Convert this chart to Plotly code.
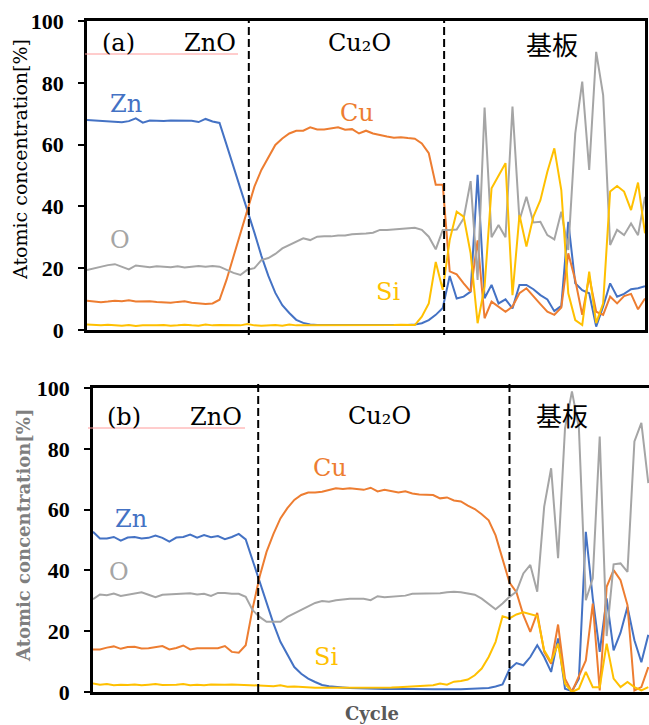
import plotly.graph_objects as go

# ---------------- data ----------------
cycle = list(range(81))

zn_a = [68.0, 67.8, 67.8, 67.5, 67.3, 67.2, 67.6, 68.5, 67.1, 67.8, 67.7, 67.6, 67.8, 67.8, 67.8, 67.7, 67.3, 68.3, 67.5, 67.0,
        60.0, 53.0, 46.0, 39.0, 31.5, 24.0, 17.5, 12.0, 8.0, 5.5, 3.3, 2.3, 1.8, 1.6, 1.6, 1.5, 1.5, 1.5, 1.4, 1.5,
        1.5, 1.5, 1.4, 1.5, 1.5, 1.6, 1.6, 1.8, 2.2, 3.2, 4.9, 7.1, 17.5, 10.2, 10.8, 12.4, 50.2, 10.3, 14.6, 8.6,
        9.9, 7.0, 14.6, 14.6, 13.2, 11.3, 9.9, 6.1, 7.8, 35.0, 15.1, 12.9, 11.9, 1.1, 7.6, 15.1, 10.8, 11.7, 13.2, 13.5,
        14.2]
cu_a = [9.5, 9.2, 9.0, 9.2, 9.5, 9.3, 9.6, 9.2, 9.3, 9.3, 9.1, 9.0, 8.8, 9.1, 9.3, 8.8, 8.5, 8.4, 8.6, 9.8,
        16.2, 23.7, 31.8, 38.8, 46.4, 51.8, 56.1, 59.9, 62.0, 63.6, 64.5, 64.5, 65.6, 64.9, 64.9, 65.2, 65.6, 64.8, 65.0, 63.6,
        64.5, 63.6, 63.0, 62.6, 62.2, 62.4, 62.1, 61.9, 60.4, 57.2, 47.0, 47.0, 19.0, 18.0, 15.1, 12.4, 29.0, 3.8, 9.2, 7.6,
        5.9, 7.6, 11.9, 13.5, 10.8, 8.4, 5.9, 4.9, 7.3, 24.8, 16.2, 4.9, 17.3, 5.9, 4.9, 10.8, 8.6, 11.0, 11.7, 6.7,
        10.2]
o_a = [19.4, 20.0, 20.5, 21.0, 21.3, 20.5, 19.6, 20.9, 20.5, 20.3, 20.6, 20.5, 20.3, 20.6, 20.2, 20.5, 20.7, 20.5, 20.7, 20.5,
       19.5, 18.5, 17.8, 19.5, 20.0, 22.6, 23.3, 24.6, 26.4, 27.5, 28.4, 29.7, 29.1, 30.2, 30.3, 30.3, 30.6, 30.6, 31.0, 31.0,
       31.2, 31.5, 32.4, 32.4, 32.6, 32.7, 33.0, 33.1, 32.4, 30.2, 26.1, 32.4, 32.4, 32.5, 36.1, 48.2, 16.2, 72.0, 30.0, 34.0,
       30.0, 72.3, 35.5, 43.1, 34.8, 35.0, 30.7, 29.3, 38.3, 25.9, 63.6, 80.4, 51.8, 90.0, 76.0, 27.5, 32.4, 30.7, 34.5, 30.7,
       43.1]
si_a = [1.8, 1.6, 1.5, 1.7, 1.5, 1.4, 1.6, 1.3, 1.5, 1.4, 1.5, 1.6, 1.4, 1.5, 1.7, 1.5, 1.4, 1.8, 1.5, 1.6,
        1.5, 1.6, 1.5, 1.9, 1.5, 1.4, 1.5, 1.6, 1.4, 1.8, 1.5, 1.5, 1.6, 1.5, 1.4, 1.5, 1.6, 1.5, 1.5, 1.6,
        1.5, 1.5, 1.6, 1.5, 1.6, 1.7, 1.6, 1.6, 4.3, 8.6, 22.0, 13.0, 29.1, 38.3, 36.7, 24.8, 2.2, 14.0, 45.9, 50.0,
        54.0, 11.3, 37.2, 27.0, 36.7, 42.0, 51.2, 58.8, 45.3, 11.9, 3.2, 1.6, 18.9, 2.2, 8.6, 44.8, 46.6, 44.8, 38.8, 47.7,
        31.3]

zn_b = [52.7, 50.5, 50.5, 51.0, 49.8, 50.8, 51.0, 50.5, 50.7, 51.5, 50.7, 49.5, 50.8, 51.0, 51.8, 50.8, 51.6, 50.9, 51.3, 50.3,
        51.0, 52.0, 50.2, 43.4, 36.8, 29.7, 22.5, 16.5, 12.1, 8.2, 6.0, 4.4, 3.3, 2.3, 1.9, 1.6, 1.5, 1.3, 1.2, 1.2,
        1.1, 1.1, 1.0, 1.0, 1.1, 1.0, 1.0, 0.9, 1.0, 0.9, 0.9, 1.0, 0.9, 0.9, 1.0, 1.0, 1.1, 1.3, 1.8, 2.5,
        7.5, 9.5, 8.8, 11.5, 15.4, 11.5, 6.6, 17.6, 1.1, 0.3, 4.4, 52.7, 30.8, 13.2, 30.8, 13.7, 19.5, 28.0, 17.0, 9.8,
        18.8]
cu_b = [14.0, 14.0, 14.6, 15.0, 14.2, 14.8, 14.9, 14.3, 14.4, 14.7, 15.1, 14.0, 14.5, 15.3, 14.0, 14.4, 14.4, 14.4, 14.4, 15.1,
        13.2, 12.9, 15.4, 27.5, 37.9, 46.1, 52.0, 57.1, 60.5, 63.2, 64.8, 65.6, 65.6, 65.9, 66.5, 67.0, 66.8, 67.0, 66.8, 66.5,
        67.2, 66.0, 66.5, 66.0, 65.6, 66.0, 65.3, 65.0, 65.0, 64.8, 63.7, 64.0, 63.0, 62.7, 61.3, 60.2, 58.5, 56.5, 51.5, 43.5,
        36.0, 32.8, 25.3, 19.8, 26.0, 13.2, 9.3, 22.2, 4.4, 0.0, 5.5, 10.4, 29.1, 0.5, 34.6, 40.1, 36.8, 28.6, 0.5, 1.6,
        8.2]
o_b = [30.5, 32.1, 31.8, 32.4, 31.6, 32.0, 32.4, 32.8, 32.0, 31.2, 32.0, 32.1, 32.3, 32.3, 32.5, 32.1, 32.3, 31.6, 32.6, 32.6,
       32.3, 32.3, 31.3, 26.9, 24.7, 23.1, 23.1, 23.1, 24.7, 25.8, 26.9, 28.0, 29.3, 29.9, 29.7, 30.2, 30.5, 30.7, 30.7, 30.7,
       30.2, 31.5, 31.2, 31.3, 31.5, 31.7, 32.3, 32.3, 32.3, 32.3, 32.5, 32.8, 33.0, 32.8, 32.3, 32.0, 30.7, 29.1, 27.2, 29.1,
       31.3, 33.0, 39.0, 41.8, 33.0, 61.0, 73.6, 44.0, 86.8, 98.9, 86.8, 30.2, 37.4, 84.0, 18.4, 42.0, 42.3, 39.5, 82.4, 88.5,
       68.7]
si_b = [2.8, 2.4, 2.6, 2.2, 2.4, 2.3, 2.5, 2.2, 2.4, 2.6, 2.3, 2.3, 2.4, 2.6, 2.2, 2.4, 2.2, 2.5, 2.4, 2.4,
        2.5, 2.4, 2.3, 2.2, 2.1, 2.0, 1.9, 2.2, 1.7, 1.8, 1.6, 1.5, 1.4, 1.4, 1.4, 1.3, 1.3, 1.4, 1.3, 1.3,
        1.4, 1.4, 1.4, 1.5, 1.6, 1.7, 1.8, 2.0, 2.0, 2.2, 2.8, 2.4, 3.4, 3.6, 4.1, 5.5, 7.7, 11.5, 16.5, 24.9,
        24.2, 25.5, 26.2, 25.5, 25.0, 13.7, 9.9, 15.9, 2.8, 0.0, 1.1, 6.6, 1.6, 1.6, 15.9, 4.4, 1.6, 3.3, 1.6, 0.5,
        1.6]

boundaries_a = [23.2, 51.2]
boundaries_b = [23.8, 60.0]
yticks = [0, 20, 40, 60, 80, 100]

# ---------------- style ----------------
W, H = 649, 725
C_ZN, C_CU, C_O, C_SI = "#4472C4", "#ED7D31", "#A5A5A5", "#FFC000"
SERIF = "DejaVu Serif, Liberation Serif, serif"
TICKF = "Liberation Serif, serif"
CJK = "Noto Sans CJK JP, Noto Sans, sans-serif"


def px(x):
    return x / W


def py(y):
    return 1 - y / H


fig = go.Figure()
series_a = [(zn_a, C_ZN), (cu_a, C_CU), (o_a, C_O), (si_a, C_SI)]
series_b = [(zn_b, C_ZN), (cu_b, C_CU), (o_b, C_O), (si_b, C_SI)]
for vals, col in series_a:
    fig.add_trace(go.Scatter(x=cycle, y=vals, mode="lines", line=dict(color=col, width=2),
                             xaxis="x", yaxis="y", hoverinfo="skip"))
for vals, col in series_b:
    fig.add_trace(go.Scatter(x=cycle, y=vals, mode="lines", line=dict(color=col, width=2),
                             xaxis="x2", yaxis="y2", hoverinfo="skip"))

yaxis_common = dict(range=[0, 100], tickvals=yticks, ticks="outside", ticklen=6, tickwidth=2,
                    tickcolor="black", showline=True, linecolor="black", linewidth=2.5,
                    showgrid=False, zeroline=False, ticklabelstandoff=10, automargin=False,
                    tickfont=dict(family=TICKF, size=22, color="black", weight="bold"))

fig.update_layout(
    width=W, height=H, margin=dict(l=0, r=0, t=0, b=0, pad=0, autoexpand=False),
    paper_bgcolor="white", plot_bgcolor="white", showlegend=False,
    xaxis=dict(domain=[px(87), px(645)], range=[0, 80], anchor="y", showline=True, linecolor="black",
               linewidth=2.5, mirror=True, showticklabels=False, ticks="", showgrid=False, zeroline=False,
               automargin=False),
    yaxis=dict(domain=[py(330), py(21)], anchor="x", mirror=True, **yaxis_common),
    xaxis2=dict(domain=[px(93), 1.0], range=[0, 80.1], anchor="y2", showline=True, linecolor="black",
                linewidth=2.5, mirror=True, showticklabels=False, ticks="", showgrid=False, zeroline=False,
                automargin=False),
    yaxis2=dict(domain=[py(692), py(388)], anchor="x2", mirror=False, **yaxis_common),
)

shapes = []
for b in boundaries_a:
    shapes.append(dict(type="line", xref="x", yref="paper", x0=b, x1=b, y0=py(335), y1=py(21),
                       line=dict(color="black", width=2, dash="8px,4px")))
for b in boundaries_b:
    shapes.append(dict(type="line", xref="x2", yref="paper", x0=b, x1=b, y0=py(692), y1=py(382),
                       line=dict(color="black", width=2, dash="8px,4px")))
shapes.append(dict(type="line", xref="paper", yref="paper", x0=px(85), x1=px(238), y0=py(54), y1=py(54),
                   line=dict(color="#ff9a9a", width=1)))
shapes.append(dict(type="line", xref="paper", yref="paper", x0=px(88), x1=px(245), y0=py(428), y1=py(428),
                   line=dict(color="#ff9a9a", width=1)))
fig.update_layout(shapes=shapes)

ann = []


def label(text, x, y, color="black", size=24, family=SERIF, weight="normal", angle=0):
    ann.append(dict(text=text, xref="paper", yref="paper", x=px(x), y=py(y), xanchor="center",
                    yanchor="middle", showarrow=False, textangle=angle, borderpad=0,
                    font=dict(family=family, size=size, color=color, weight=weight)))


# panel (a)
label("(a)", 118, 43)
label("ZnO", 210, 43)
label("Cu₂O", 360, 43)
label("基板", 552, 44, family=CJK, size=26)
label("Zn", 126, 104, color=C_ZN)
label("O", 120, 240, color=C_O)
label("Cu", 357, 113, color=C_CU)
label("Si", 388, 292, color=C_SI)
label("Atomic concentration[%]", 20, 160, size=19, angle=-90)

# panel (b)
label("(b)", 124, 417)
label("ZnO", 216, 417)
label("Cu₂O", 379, 416)
label("基板", 562, 414, family=CJK, size=26)
label("Zn", 131, 519, color=C_ZN)
label("O", 119, 572, color=C_O)
label("Cu", 330, 468, color=C_CU)
label("Si", 326, 657, color=C_SI)
label("Atomic concentration[%]", 23, 536, size=18, angle=-90, color="#7f7f7f", weight="bold")
label("Cycle", 372, 713, size=18, color="#595959", weight="bold")

fig.update_layout(annotations=ann)
fig.write_html("out.html")
